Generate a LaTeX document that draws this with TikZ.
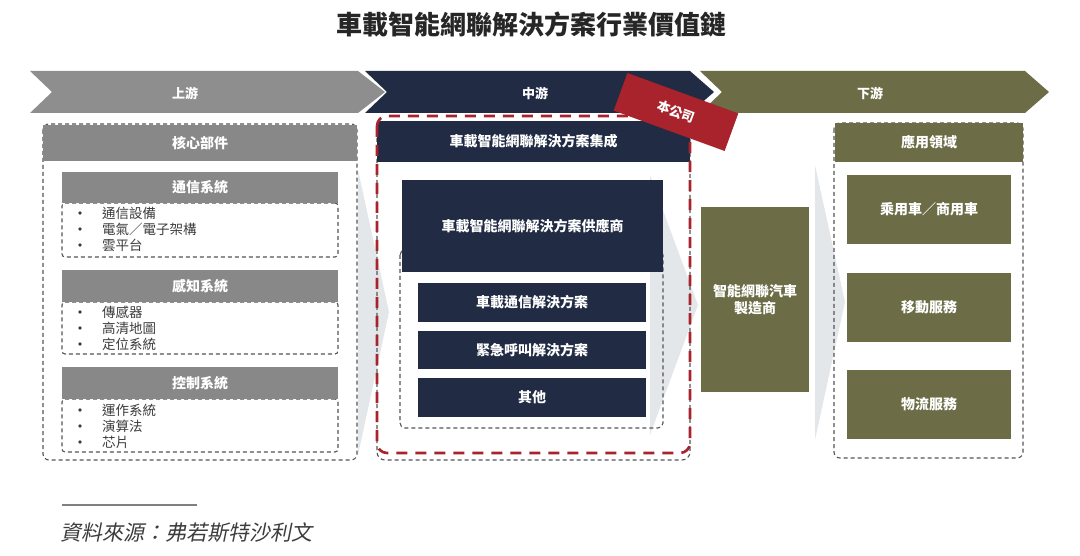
\documentclass[tikz,border=0pt]{standalone}
\usepackage{fontspec}
\setmainfont{Noto Sans CJK TC}
\newfontfamily\cjkit{Noto Sans CJK TC}[FakeSlant=0.2]
\definecolor{navy}{RGB}{33,43,68}
\definecolor{olive}{RGB}{108,109,70}
\definecolor{gchev}{RGB}{142,142,142}
\definecolor{ghead}{RGB}{136,136,136}
\definecolor{redc}{RGB}{168,35,43}
\definecolor{faint}{RGB}{228,231,234}
\definecolor{dashg}{RGB}{85,85,85}
\definecolor{txtg}{RGB}{60,60,60}
\tikzset{
  chevlabel/.style={text=white, font=\bfseries\fontsize{13}{15}\selectfont, inner sep=0},
  boxbase/.style={inner sep=0, text=white, font=\bfseries\fontsize{14}{17}\selectfont, align=center},
  greybox/.style={boxbase, fill=ghead},
  navybox/.style={boxbase, fill=navy},
  olivebox/.style={boxbase, fill=olive},
  gdash/.style={draw=dashg, line width=1.1pt, dash pattern=on 4pt off 3pt, rounded corners=6pt},
  listbox/.style={gdash, rounded corners=3pt, inner sep=0, minimum width=276pt},
  item/.style={anchor=west, font=\fontsize{13.5}{15}\selectfont, text=txtg, inner sep=0},
  bul/.style={circle, fill=txtg, inner sep=0, minimum size=3.6pt},
  faintarrow/.style={fill=faint},
}
\begin{document}
\begin{tikzpicture}[x=1pt,y=-1pt]
\useasboundingbox (0,0) rectangle (1080,556);
% title
\node[font=\bfseries\fontsize{26}{30}\selectfont, text=black!85] (title) at (531.5,24) {車載智能網聯解決方案行業價值鏈};
% chevrons
\fill[gchev] (30,71) -- (358,71) -- (385,92) -- (358,113) -- (30,113) -- (52,92) -- cycle;
\fill[navy] (365,71) -- (690,71) -- (714,92) -- (690,113) -- (365,113) -- (387,92) -- cycle;
\fill[olive] (700,71) -- (1025,71) -- (1049,92) -- (1025,113) -- (700,113) -- (722,92) -- cycle;
\node[chevlabel] (up) at (185,93) {上游};
\node[chevlabel] (mid) at (535,93) {中游};
\node[chevlabel] (down) at (870,93) {下游};
% faint arrows
\fill[faintarrow] (358,170) -- (389,312) -- (358,455) -- cycle;
\fill[faintarrow] (650,175) -- (698,305) -- (650,435) -- cycle;
\fill[faintarrow] (815,165) -- (845,302) -- (815,440) -- cycle;
% left column
\draw[gdash] (43,124) rectangle (357,460);
\node[greybox, minimum width=314pt, minimum height=36pt] (core) at (200,143) {核心部件};
\node[listbox, minimum height=54pt] (l1) at (200,230) {};
\node[listbox, minimum height=52pt] (l2) at (200,328) {};
\node[listbox, minimum height=53pt] (l3) at (200,425.5) {};
\node[greybox, minimum width=276pt, minimum height=31pt] (s1) at (200,187.5) {通信系統};
\node[greybox, minimum width=276pt, minimum height=32pt] (s2) at (200,286) {感知系統};
\node[greybox, minimum width=276pt, minimum height=32pt] (s3) at (200,383) {控制系統};
\foreach \y/\t [count=\i] in {213/通信設備, 229/電氣／電子架構, 245/雲平台,
                              312/傳感器, 328/高清地圖, 344/定位系統,
                              410/運作系統, 426/演算法, 442/芯片}{
  \node[bul] (b\i) at (80,\y) {};
  \node[item] (t\i) at (102,\y) {\t};
}
% middle column
\draw[gdash, rounded corners=8pt] (377,123) rectangle (690,460);
\node[navybox, minimum width=313pt, minimum height=41pt] (integ) at (533.5,141.5) {車載智能網聯解決方案集成};
\draw[gdash, rounded corners=5pt] (400,250) rectangle (663,428);
\node[navybox, minimum width=261pt, minimum height=92pt] (supp) at (532.5,226) {車載智能網聯解決方案供應商};
\node[navybox, minimum width=228pt, minimum height=39pt] (m1) at (532,302.5) {車載通信解決方案};
\node[navybox, minimum width=228pt, minimum height=38pt] (m2) at (532,350) {緊急呼叫解決方案};
\node[navybox, minimum width=228pt, minimum height=39pt] (m3) at (532,397.5) {其他};
\draw[redc, line width=2.6pt, dash pattern=on 11pt off 8pt, rounded corners=10pt] (377,116) rectangle (690,453);
% company tag
\node[fill=redc, rotate=-20, minimum width=118pt, minimum height=40pt, inner sep=0,
      text=white, font=\bfseries\fontsize{13}{15}\selectfont] (tag) at (676,112) {本公司};
% OEM
\node[olivebox, minimum width=108pt, minimum height=185pt] (oem) at (755,299.5) {智能網聯汽車\\製造商};
% right column
\draw[gdash] (834,123) rectangle (1023,458);
\node[olivebox, minimum width=188pt, minimum height=39pt] (app) at (929,142.5) {應用領域};
\node[olivebox, minimum width=164pt, minimum height=69pt] (r1) at (929,209.5) {乘用車／商用車};
\node[olivebox, minimum width=164pt, minimum height=69pt] (r2) at (929,307.5) {移動服務};
\node[olivebox, minimum width=164pt, minimum height=69pt] (r3) at (929,404.5) {物流服務};
% footer
\coordinate (fl) at (62,505);
\coordinate (fr) at (197,505);
\draw[gray, line width=1.6pt] (fl) -- (fr);
\node[anchor=west, inner sep=0, text=txtg, font=\cjkit\fontsize{21}{24}\selectfont] (src) at (60,533) {資料來源：弗若斯特沙利文};
\end{tikzpicture}
\end{document}
